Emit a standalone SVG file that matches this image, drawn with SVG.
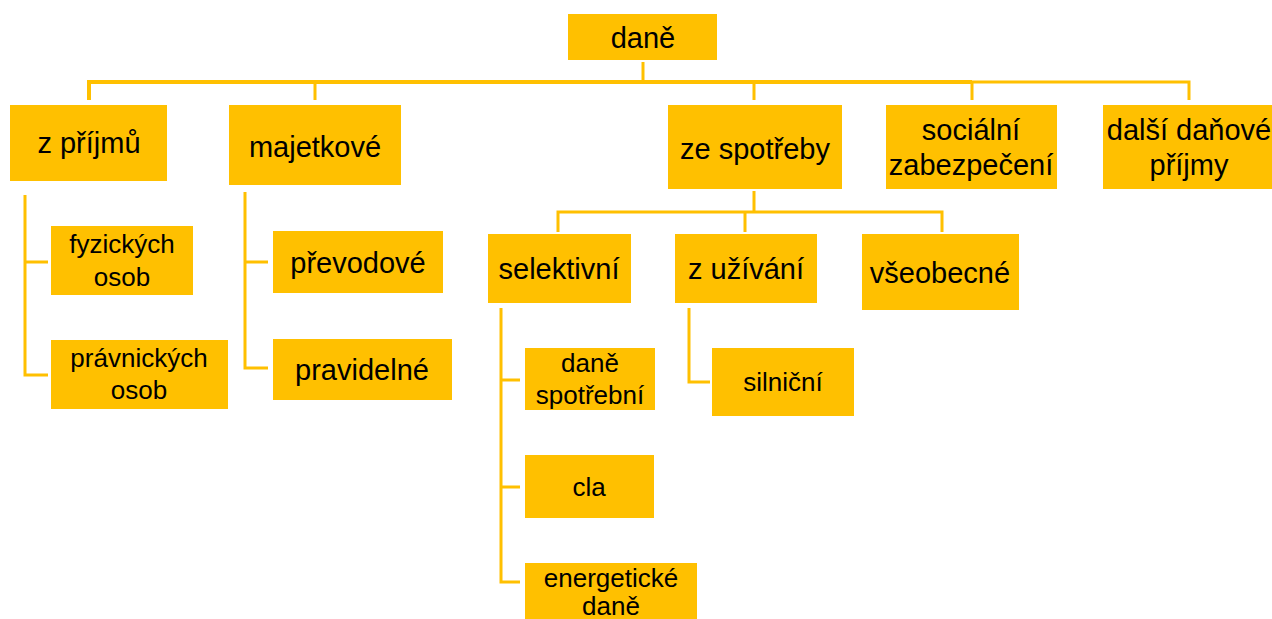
<svg xmlns="http://www.w3.org/2000/svg" width="1272" height="619" viewBox="0 0 1272 619">
<style>
.b{fill:#FFC000}
.t{font-family:"Liberation Sans",Arial,sans-serif;font-size:29px;fill:#000;text-anchor:middle}
.s{font-size:26px}
.c{fill:none;stroke:#FFC000;stroke-width:3}
</style>
<rect width="1272" height="619" fill="#fff"/>
<g id="connectors">
<path class="c" d="M643 62V82" stroke-width="4"/>
<path class="c" d="M89 100V82H972" style="stroke-width:4"/>
<path class="c" d="M972 82H1189V100"/>
<path class="c" d="M315 82V100M754 82V100M972 82V100"/>
<path class="c" d="M25 195V375H48M25 262H48"/>
<path class="c" d="M245 192V368H268M245 262H268"/>
<path class="c" d="M754 191V212M558 232V212H942V232M745 212V232"/>
<path class="c" d="M501 308V582H520M501 380H520M501 487H520"/>
<path class="c" d="M689 308V382H710"/>
</g>
<g id="n-dane"><rect class="b" x="568" y="14" width="149" height="46"/><text class="t" x="643" y="48">daně</text></g>
<g id="n-zprijmu"><rect class="b" x="10" y="105" width="157" height="76"/><text class="t" x="89" y="153">z příjmů</text></g>
<g id="n-majetkove"><rect class="b" x="229" y="105" width="172" height="80"/><text class="t" x="315" y="157">majetkové</text></g>
<g id="n-zespotreby"><rect class="b" x="668" y="105" width="174" height="84"/><text class="t" x="755" y="159">ze spotřeby</text></g>
<g id="n-socialni"><rect class="b" x="886" y="105" width="171" height="84"/><text class="t" x="971" y="140">sociální</text><text class="t" x="971" y="175">zabezpečení</text></g>
<g id="n-dalsi"><rect class="b" x="1103" y="105" width="169" height="84"/><text class="t" x="1189" y="140">další daňové</text><text class="t" x="1189" y="175">příjmy</text></g>
<g id="n-fyzickych"><rect class="b" x="51" y="226" width="142" height="69"/><text class="t s" x="122" y="253">fyzických</text><text class="t s" x="122" y="286">osob</text></g>
<g id="n-pravnickych"><rect class="b" x="51" y="340" width="177" height="69"/><text class="t s" x="139" y="367">právnických</text><text class="t s" x="139" y="399">osob</text></g>
<g id="n-prevodove"><rect class="b" x="273" y="231" width="170" height="62"/><text class="t" x="358" y="273">převodové</text></g>
<g id="n-pravidelne"><rect class="b" x="273" y="339" width="179" height="61"/><text class="t" x="362" y="380">pravidelné</text></g>
<g id="n-selektivni"><rect class="b" x="488" y="234" width="143" height="69"/><text class="t" x="559" y="279">selektivní</text></g>
<g id="n-zuzivani"><rect class="b" x="675" y="234" width="142" height="69"/><text class="t" x="746" y="279">z užívání</text></g>
<g id="n-vseobecne"><rect class="b" x="862" y="234" width="157" height="76"/><text class="t" x="940" y="283">všeobecné</text></g>
<g id="n-danespotrebni"><rect class="b" x="525" y="348" width="130" height="62"/><text class="t s" x="590" y="372">daně</text><text class="t s" x="590" y="404">spotřební</text></g>
<g id="n-cla"><rect class="b" x="525" y="455" width="129" height="63"/><text class="t s" x="589" y="496">cla</text></g>
<g id="n-energeticke"><rect class="b" x="525" y="563" width="172" height="56"/><text class="t s" x="611" y="587">energetické</text><text class="t s" x="611" y="615">daně</text></g>
<g id="n-silnicni"><rect class="b" x="712" y="348" width="142" height="68"/><text class="t s" x="783" y="391">silniční</text></g>
</svg>
